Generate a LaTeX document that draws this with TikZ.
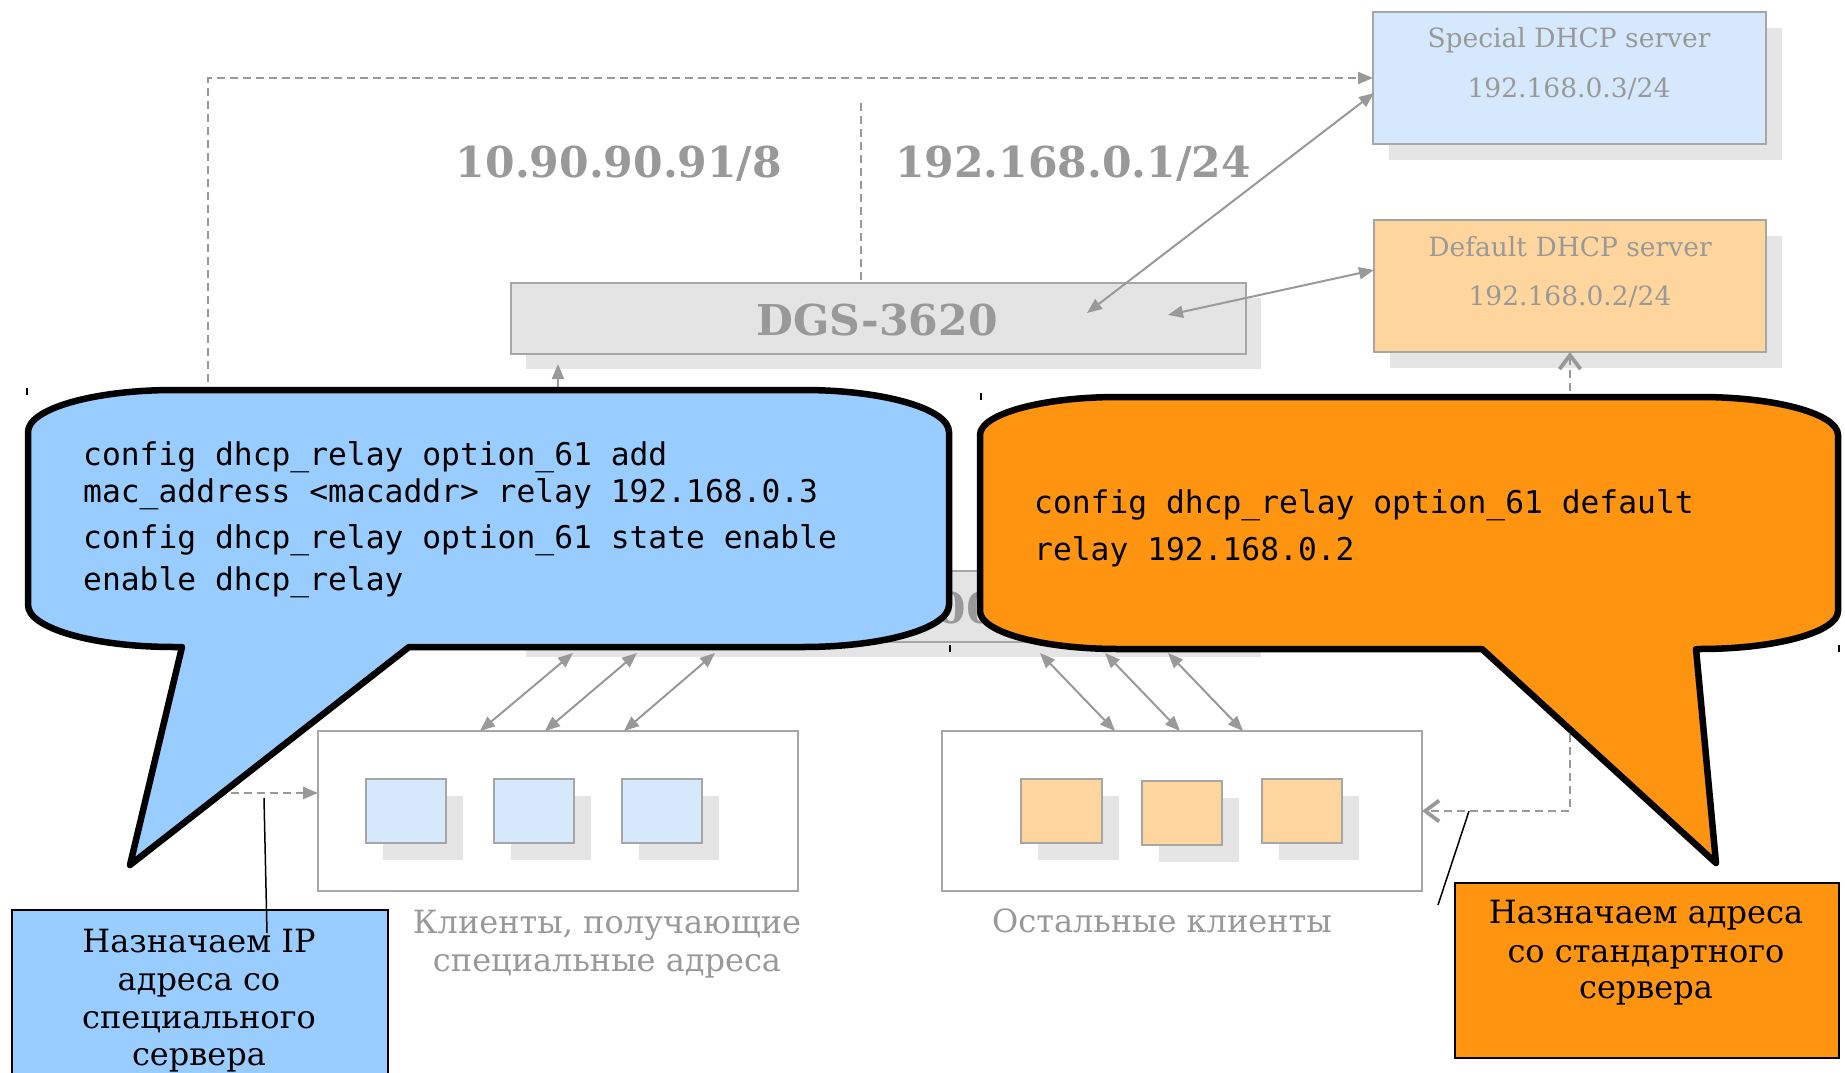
\documentclass[tikz,border=0pt]{standalone}
\usepackage{fontspec}
\setmainfont{DejaVu Serif}
\newfontfamily\cmdfont{DejaVu Sans Mono}
\usetikzlibrary{arrows.meta,shadows,calc}

\definecolor{txtgray}{HTML}{999999}
\definecolor{linegray}{HTML}{999999}
\definecolor{boxline}{HTML}{A6A6A6}
\definecolor{shadowc}{HTML}{E5E5E5}
\definecolor{switchfill}{HTML}{E4E4E4}
\definecolor{paleblue}{HTML}{D5E8FC}
\definecolor{paleorange}{HTML}{FFD59E}
\definecolor{bubbleblue}{HTML}{99CCFF}
\definecolor{bubbleorange}{HTML}{FF9411}

\begin{document}
\begin{tikzpicture}[x=1pt,y=-1pt,
  box/.style={draw=boxline, line width=2pt, anchor=north west, inner sep=0pt, outer sep=0pt},
  shadowed/.style={drop shadow={shadow xshift=#1pt, shadow yshift=-#1pt, fill=shadowc, draw=none, opacity=1}},
  srvtext/.style={text=txtgray, font=\fontsize{26.5}{30}\selectfont, anchor=base, inner sep=0pt},
  bigtext/.style={text=txtgray, font=\fontsize{42.5}{48}\selectfont\bfseries, anchor=base, inner sep=0pt},
  grptext/.style={text=txtgray, font=\fontsize{32}{36}\selectfont, anchor=base, inner sep=0pt},
  cmdtext/.style={font=\fontsize{31.3}{37}\selectfont\cmdfont, anchor=base west, inner sep=0pt},
  notetext/.style={font=\fontsize{32}{38}\selectfont, anchor=base, inner sep=0pt},
  gline/.style={draw=linegray, line width=2pt},
  tri/.tip={Triangle[length=15pt,width=12pt]},
  barb/.tip={Straight Barb[length=14pt,width=21pt,line width=3.8pt]},
  dashline/.style={draw=linegray, line width=2pt, dash pattern=on 8pt off 5pt},
  bubble/.style={line width=6.5pt, line join=round, draw=black},
  notebox/.style={draw=black, line width=2pt, anchor=north west, inner sep=0pt},
  callline/.style={draw=black, line width=1.5pt},
  tick/.style={draw=black, line width=1.3pt}
]
\useasboundingbox (0,0) rectangle (1845,1073);

% servers
\node[box, shadowed=16, fill=paleblue, minimum width=393pt, minimum height=132pt] (spec) at (1373,12) {};
\node[box, shadowed=16, fill=paleorange, minimum width=392pt, minimum height=132pt] (deflt) at (1374,220) {};
\node[srvtext] (specT1) at (1569,48) {Special DHCP server};
\node[srvtext] (specT2) at (1569,97) {192.168.0.3/24};
\node[srvtext] (defT1) at (1570,256) {Default DHCP server};
\node[srvtext] (defT2) at (1570,305) {192.168.0.2/24};

% switches
\node[box, shadowed=15, fill=switchfill, minimum width=735pt, minimum height=71pt] (dgs) at (511,283) {};
\node[bigtext] (dgsT) at (877,335) {DGS-3620};
\node[box, shadowed=15, fill=switchfill, minimum width=735pt, minimum height=71pt] (des) at (511,571) {};
\node[bigtext] (desT) at (877,623) {DES-3200};

% network labels
\node[bigtext] (netA) at (619,177) {10.90.90.91/8};
\node[bigtext] (netB) at (1073,177) {192.168.0.1/24};
\coordinate (split) at (861,103);
\draw[dashline] (split) -- (split |- dgs.north);

% client groups
\node[box, fill=white, minimum width=480pt, minimum height=160pt] (grpA) at (318,731) {};
\node[box, fill=white, minimum width=480pt, minimum height=160pt] (grpB) at (942,731) {};
\node[box, shadowed=17, fill=paleblue, minimum width=80pt, minimum height=64pt] (cA1) at (366,779) {};
\node[box, shadowed=17, fill=paleblue, minimum width=80pt, minimum height=64pt] (cA2) at (494,779) {};
\node[box, shadowed=17, fill=paleblue, minimum width=80pt, minimum height=64pt] (cA3) at (622,779) {};
\node[box, shadowed=17, fill=paleorange, minimum width=81pt, minimum height=64pt] (cB1) at (1021,779) {};
\node[box, shadowed=17, fill=paleorange, minimum width=80pt, minimum height=64pt] (cB2) at (1142,781) {};
\node[box, shadowed=17, fill=paleorange, minimum width=80pt, minimum height=64pt] (cB3) at (1262,779) {};
\node[grptext] (grpAT1) at (607,933) {Клиенты, получающие};
\node[grptext] (grpAT2) at (607,971) {специальные адреса};
\node[grptext] (grpBT) at (1162,932) {Остальные клиенты};

% relay paths (dashed)
\coordinate (specIn) at (1373,78);
\coordinate (grpAIn) at (318,793);
\coordinate (bendA) at (208,78);
\draw[dashline, {tri}-{tri}] (grpAIn) -- (bendA |- grpAIn) -- (bendA) -- (specIn);
\draw[dashline, {barb}-{barb}] (deflt.south) -- (deflt.south |- grpB.east) -- (grpB.east);

% links
\coordinate (specLink) at (1374,93);
\coordinate (dgsLinkA) at (1087,313);
\coordinate (defLink) at (1374,270);
\coordinate (dgsLinkB) at (1168,315);
\draw[gline, {tri}-{tri}] (specLink) -- (dgsLinkA);
\draw[gline, {tri}-{tri}] (defLink) -- (dgsLinkB);
\coordinate (upA) at (558,571);
\coordinate (upB) at (558,364);
\draw[gline, -{tri}] (upA) -- (upB);
\foreach \i/\xa/\xb in {1/573/480, 2/637/545, 3/715/624}{
  \coordinate (dA\i) at (\xa,653);
  \coordinate (gA\i) at (\xb,731);
  \draw[gline, {tri}-{tri}] (dA\i) -- (gA\i);
}
\foreach \i/\xa/\xb in {1/1040/1115, 2/1105/1180, 3/1168/1243}{
  \coordinate (dB\i) at (\xa,653);
  \coordinate (gB\i) at (\xb,731);
  \draw[gline, {tri}-{tri}] (dB\i) -- (gB\i);
}

% speech bubbles
\path[bubble, fill=bubbleblue] (174,390) -- (803,390)
  .. controls (883.6,390) and (949,408.8) .. (949,432) -- (949,605)
  .. controls (949,628.2) and (883.6,647) .. (803,647)
  -- (409,647) -- (130,865) -- (182,647) -- (174,647)
  .. controls (93.4,647) and (28,628.2) .. (28,605) -- (28,432)
  .. controls (28,408.8) and (93.4,390) .. (174,390) -- cycle;
\path[bubble, fill=bubbleorange] (1118,397) -- (1700,397)
  .. controls (1776.2,397) and (1838,414) .. (1838,435) -- (1838,611)
  .. controls (1838,632) and (1776.2,649) .. (1700,649)
  -- (1696,649) -- (1716,863) -- (1482,649) -- (1118,649)
  .. controls (1041.8,649) and (980,632) .. (980,611) -- (980,435)
  .. controls (980,414) and (1041.8,397) .. (1118,397) -- cycle;

\node[cmdtext] (cmd1) at (83,465) {config dhcp\_relay option\_61 add};
\node[cmdtext] (cmd2) at (83,502) {mac\_address <macaddr> relay 192.168.0.3};
\node[cmdtext] (cmd3) at (83,548) {config dhcp\_relay option\_61 state enable};
\node[cmdtext] (cmd4) at (83,590) {enable dhcp\_relay};
\node[cmdtext] (cmd5) at (1034,513) {config dhcp\_relay option\_61 default};
\node[cmdtext] (cmd6) at (1034,560) {relay 192.168.0.2};

% notes
\node[notebox, fill=bubbleblue, minimum width=376pt, minimum height=200pt] (noteA) at (11,909) {};
\coordinate (noteAtip) at (264,798);
\coordinate (noteAend) at (267,933);
\draw[callline] (noteAtip) -- (noteAend);
\node[notetext] (nA1) at (199,952) {Назначаем IP};
\node[notetext] (nA2) at (199,990) {адреса со};
\node[notetext] (nA3) at (199,1028) {специального};
\node[notetext] (nA4) at (199,1065) {сервера};

\node[notebox, fill=bubbleorange, minimum width=384pt, minimum height=175pt] (noteB) at (1454,882) {};
\coordinate (noteBtip) at (1469,811);
\coordinate (noteBend) at (1438,905);
\draw[callline] (noteBtip) -- (noteBend);
\node[notetext] (nB1) at (1646,923) {Назначаем адреса};
\node[notetext] (nB2) at (1646,962) {со стандартного};
\node[notetext] (nB3) at (1646,998) {сервера};

% corner marks
\coordinate (m1) at (27,388);
\coordinate (m2) at (981,393);
\coordinate (m3) at (950,645);
\coordinate (m4) at (1839,645);
\foreach \m in {m1,m2,m3,m4}{ \draw[tick] (\m) -- ++(0,7); }
\end{tikzpicture}
\end{document}
